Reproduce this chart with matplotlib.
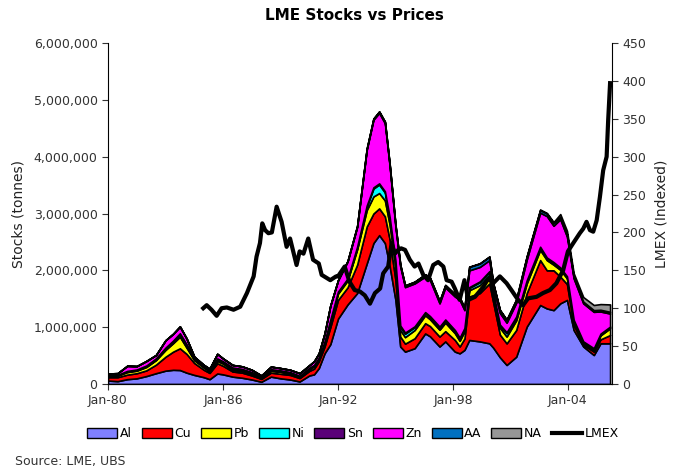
import matplotlib
matplotlib.use("Agg")
import matplotlib.pyplot as plt
import matplotlib.ticker as mticker
from matplotlib.patches import Patch
from matplotlib.lines import Line2D

# Stock data (thousand tonnes)
t_stock = [1980.0, 1980.5, 1981.0, 1981.5, 1982.0, 1982.5, 1983.0, 1983.4, 1983.75, 1984.1,
           1984.5, 1985.0, 1985.3, 1985.7, 1986.0, 1986.5, 1987.0, 1987.5, 1988.0, 1988.5,
           1989.0, 1989.5, 1990.0, 1990.5, 1990.75, 1991.0, 1991.3, 1991.6, 1992.0, 1992.5,
           1993.0, 1993.5, 1993.85, 1994.15, 1994.45, 1994.7, 1995.0, 1995.25, 1995.5, 1996.0,
           1996.55, 1996.8, 1997.3, 1997.6, 1998.1, 1998.35, 1998.6, 1998.85, 1999.4, 1999.9,
           2000.1, 2000.45, 2000.8, 2001.3, 2001.85, 2002.55, 2002.9, 2003.25, 2003.6, 2003.95,
           2004.3, 2004.8, 2005.35, 2005.7, 2006.2]
al = [60, 50, 85, 100, 140, 190, 235, 250, 246, 200,
      160, 120, 85, 185, 170, 130, 110, 80, 40, 130,
      100, 80, 45, 150, 170, 280, 540, 700, 1150, 1400,
      1600, 2120, 2480, 2620, 2480, 2070, 1480, 660, 570, 630,
      890, 840, 660, 750, 570, 540, 600, 775, 750, 716,
      640, 470, 335, 480, 1010, 1390, 1330, 1300, 1420, 1480,
      950, 660, 510, 716, 716]
cu = [60, 70, 80, 90, 100, 150, 245, 320, 382, 330,
      210, 130, 110, 180, 150, 90, 90, 70, 50, 70,
      80, 80, 60, 80, 100, 120, 120, 300, 330, 300,
      500, 650, 520, 470, 470, 470, 350, 175, 140, 175,
      180, 180, 175, 180, 205, 120, 200, 765, 850, 1054,
      800, 400, 380, 470, 590, 790, 670, 700, 470, 280,
      90, 30, 60, 70, 146]
pb = [30, 30, 45, 45, 60, 80, 120, 150, 204, 110,
      50, 40, 30, 40, 40, 30, 30, 25, 15, 35,
      35, 25, 20, 30, 40, 40, 60, 100, 110, 120,
      270, 290, 300, 270, 280, 260, 230, 115, 115, 145,
      140, 120, 120, 150, 120, 100, 130, 110, 140, 150,
      120, 120, 120, 170, 170, 180, 180, 100, 120, 100,
      60, 30, 30, 70, 118]
ni = [5, 5, 10, 10, 10, 10, 15, 15, 20, 20,
      15, 10, 10, 15, 15, 15, 10, 10, 5, 5,
      5, 5, 5, 10, 10, 10, 15, 15, 20, 20,
      30, 60, 140, 150, 140, 110, 90, 60, 60, 50,
      40, 40, 40, 40, 40, 40, 40, 40, 50, 50,
      40, 40, 60, 50, 40, 40, 30, 30, 25, 20,
      15, 15, 15, 15, 15]
sn = [5, 5, 10, 10, 15, 20, 25, 30, 40, 40,
      20, 15, 15, 30, 25, 25, 25, 25, 20, 20,
      20, 20, 15, 15, 15, 15, 15, 15, 15, 15,
      15, 20, 20, 20, 20, 20, 20, 20, 20, 15,
      15, 15, 15, 15, 15, 15, 15, 15, 15, 15,
      15, 15, 15, 15, 15, 15, 15, 15, 15, 15,
      15, 15, 15, 15, 15]
zn = [25, 30, 90, 60, 80, 60, 130, 120, 120, 100,
      25, 20, 20, 80, 50, 45, 45, 40, 20, 45,
      40, 40, 45, 45, 65, 75, 140, 250, 200, 300,
      350, 980, 1190, 1240, 1200, 900, 600, 1040, 800, 755,
      625, 635, 410, 565, 590, 665, 315, 295, 255, 195,
      105, 205, 170, 245, 365, 600, 730, 640, 850, 700,
      730, 670, 640, 390, 230]
aa = [0, 0, 0, 0, 0, 0, 0, 0, 0, 0,
      0, 0, 0, 0, 0, 0, 0, 0, 0, 0,
      0, 0, 0, 0, 0, 0, 0, 0, 0, 10,
      15, 20, 20, 25, 25, 25, 30, 30, 30, 30,
      40, 40, 40, 40, 40, 40, 40, 60, 60, 60,
      50, 50, 50, 50, 50, 45, 45, 45, 40, 40,
      30, 30, 30, 30, 30]
na = [0, 0, 0, 0, 0, 0, 0, 0, 0, 0,
      0, 0, 0, 0, 0, 0, 0, 0, 0, 0,
      0, 0, 0, 0, 0, 0, 0, 0, 0, 0,
      0, 0, 0, 0, 0, 0, 0, 0, 0, 0,
      0, 0, 0, 5, 5, 5, 5, 5, 5, 5,
      5, 5, 5, 10, 10, 10, 10, 20, 50, 60,
      60, 80, 90, 100, 130]

# LMEX index
t_lmex = [1984.97, 1985.15, 1985.4, 1985.67, 1985.93, 1986.2, 1986.55, 1986.9, 1987.25, 1987.6,
          1987.75, 1987.93, 1988.05, 1988.2, 1988.37, 1988.55, 1988.8, 1989.06, 1989.32, 1989.5,
          1989.84, 1990.0, 1990.2, 1990.45, 1990.7, 1991.0, 1991.15, 1991.6, 1991.9, 1992.0,
          1992.35, 1992.6, 1992.87, 1993.15, 1993.4, 1993.67, 1993.93, 1994.2, 1994.36, 1994.62,
          1994.8, 1994.97, 1995.15, 1995.3, 1995.5, 1995.75, 1996.0, 1996.2, 1996.45, 1996.7,
          1996.97, 1997.23, 1997.5, 1997.67, 1997.93, 1998.1, 1998.35, 1998.6, 1998.8, 1999.15,
          1999.58, 1999.84, 2000.1, 2000.45, 2000.8, 2001.05, 2001.4, 2001.66, 2001.92, 2002.36,
          2002.7, 2003.06, 2003.4, 2003.75, 2004.0, 2004.28, 2004.62, 2004.8, 2004.97, 2005.15,
          2005.32, 2005.5, 2005.67, 2005.84, 2006.02, 2006.1, 2006.2]
lmex = [100, 104, 98, 90, 100, 101, 98, 102, 120, 142,
        168, 186, 212, 203, 199, 200, 234, 214, 181, 192,
        157, 175, 172, 192, 164, 159, 144, 137, 142, 142,
        155, 135, 124, 122, 117, 106, 120, 126, 146, 155,
        186, 172, 177, 179, 177, 164, 155, 159, 144, 137,
        157, 161, 155, 137, 135, 126, 111, 137, 111, 115,
        128, 139, 133, 142, 133, 124, 111, 104, 113, 115,
        120, 124, 133, 150, 175, 186, 199, 205, 214, 203,
        201, 216, 247, 282, 300, 348, 397]

names = ["Al", "Cu", "Pb", "Ni", "Sn", "Zn", "AA", "NA"]
colors = ["#8080FF", "#FF0000", "#FFFF00", "#00FFFF", "#5A0078", "#FF00FF", "#0070C0", "#969696"]
xticks = [1980, 1986, 1992, 1998, 2004]
xticklabels = ["Jan-80", "Jan-86", "Jan-92", "Jan-98", "Jan-04"]

fig = plt.figure(figsize=(6.8, 4.7), dpi=100)
ax = fig.add_axes([108/680, 1-384/470, (612-108)/680, (384-43)/470])

series = [[v*1000 for v in s] for s in (al, cu, pb, ni, sn, zn, aa, na)]
ax.stackplot(t_stock, *series, colors=colors, edgecolor="black", linewidth=1.2)
ax.set_xlim(1980, 2006.3)
ax.set_ylim(0, 6_000_000)
ax.set_yticks(range(0, 6_000_001, 1_000_000))
ax.yaxis.set_major_formatter(mticker.FuncFormatter(lambda v, p: f"{int(v):,}"))
ax.set_xticks(xticks)
ax.set_xticklabels(xticklabels)
ax.set_ylabel("Stocks (tonnes)", fontsize=10, color="#222222", labelpad=6)
for s in ["top", "right"]:
    ax.spines[s].set_visible(False)

ax2 = ax.twinx()
ax2.plot(t_lmex, lmex, color="black", linewidth=3)
ax2.set_ylim(0, 450)
ax2.set_yticks(range(0, 451, 50))
ax2.set_ylabel("LMEX (Indexed)", fontsize=10, color="#222222", labelpad=6)
ax2.spines["top"].set_visible(False)
ax2.spines["left"].set_visible(False)
ax2.set_xlim(1980, 2006.3)

for a in (ax, ax2):
    a.tick_params(labelsize=9, colors="#333333", direction="out", length=4)
    for s in a.spines.values():
        s.set_color("black")

fig.text(354/680, 0.968, "LME Stocks vs Prices", ha="center", va="center",
         fontsize=11, fontweight="bold")

handles = [Patch(facecolor=c, edgecolor="black", linewidth=1) for c in colors]
handles.append(Line2D([0], [0], color="black", linewidth=3))
labels = names + ["LMEX"]
fig.legend(handles, labels, loc="center", bbox_to_anchor=(353/680, 0.077), ncol=9,
           frameon=False, fontsize=9, handlelength=2.4, handleheight=0.8,
           handletextpad=0.2, columnspacing=0.8)

fig.text(15/680, 1-461/470, "Source: LME, UBS", ha="left", va="center",
         fontsize=9, color="#333333")

fig.savefig("out.png", dpi=100)
